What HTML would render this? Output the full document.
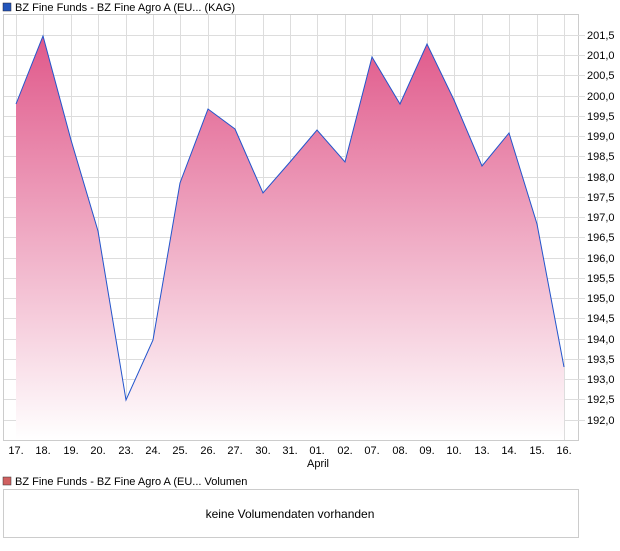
<!DOCTYPE html>
<html><head><meta charset="utf-8"><style>
body{margin:0;background:#fff;font-family:"Liberation Sans",sans-serif;}
</style></head><body>
<svg width="620" height="546" xmlns="http://www.w3.org/2000/svg" font-family="Liberation Sans, sans-serif" font-size="11" fill="#000">
<defs><linearGradient id="g" x1="0" y1="0" x2="0" y2="1"><stop offset="0" stop-color="#e0588a"/><stop offset="1" stop-color="#fff"/></linearGradient></defs>
<rect x="3" y="3" width="8" height="8" fill="#2255bb" stroke="#223" stroke-width="0.5"/>
<text x="15" y="11">BZ Fine Funds - BZ Fine Agro A (EU... (KAG)</text>
<rect x="3.5" y="14.5" width="575" height="426" fill="none" stroke="#ccc"/>
<g stroke="#ddd">
<line x1="16.5" y1="15" x2="16.5" y2="440"/><line x1="43.5" y1="15" x2="43.5" y2="440"/><line x1="71.5" y1="15" x2="71.5" y2="440"/><line x1="98.5" y1="15" x2="98.5" y2="440"/><line x1="126.5" y1="15" x2="126.5" y2="440"/><line x1="153.5" y1="15" x2="153.5" y2="440"/><line x1="180.5" y1="15" x2="180.5" y2="440"/><line x1="208.5" y1="15" x2="208.5" y2="440"/><line x1="235.5" y1="15" x2="235.5" y2="440"/><line x1="263.5" y1="15" x2="263.5" y2="440"/><line x1="290.5" y1="15" x2="290.5" y2="440"/><line x1="317.5" y1="15" x2="317.5" y2="440"/><line x1="345.5" y1="15" x2="345.5" y2="440"/><line x1="372.5" y1="15" x2="372.5" y2="440"/><line x1="400.5" y1="15" x2="400.5" y2="440"/><line x1="427.5" y1="15" x2="427.5" y2="440"/><line x1="454.5" y1="15" x2="454.5" y2="440"/><line x1="482.5" y1="15" x2="482.5" y2="440"/><line x1="509.5" y1="15" x2="509.5" y2="440"/><line x1="537.5" y1="15" x2="537.5" y2="440"/><line x1="564.5" y1="15" x2="564.5" y2="440"/>
<line x1="4" y1="35.5" x2="585" y2="35.5"/><line x1="4" y1="55.5" x2="585" y2="55.5"/><line x1="4" y1="75.5" x2="585" y2="75.5"/><line x1="4" y1="96.5" x2="585" y2="96.5"/><line x1="4" y1="116.5" x2="585" y2="116.5"/><line x1="4" y1="136.5" x2="585" y2="136.5"/><line x1="4" y1="156.5" x2="585" y2="156.5"/><line x1="4" y1="177.5" x2="585" y2="177.5"/><line x1="4" y1="197.5" x2="585" y2="197.5"/><line x1="4" y1="217.5" x2="585" y2="217.5"/><line x1="4" y1="237.5" x2="585" y2="237.5"/><line x1="4" y1="258.5" x2="585" y2="258.5"/><line x1="4" y1="278.5" x2="585" y2="278.5"/><line x1="4" y1="298.5" x2="585" y2="298.5"/><line x1="4" y1="318.5" x2="585" y2="318.5"/><line x1="4" y1="339.5" x2="585" y2="339.5"/><line x1="4" y1="359.5" x2="585" y2="359.5"/><line x1="4" y1="379.5" x2="585" y2="379.5"/><line x1="4" y1="399.5" x2="585" y2="399.5"/><line x1="4" y1="420.5" x2="585" y2="420.5"/>
</g>
<polygon fill="url(#g)" points="16,104 43,36 71,140 98,231 126,400 153,340 180,183 208,109 235,129 263,193 290,162 317,130 345,162 372,57 400,104 427,44 454,100 482,166 509,133 537,224 564,367 564,440 16,440"/>
<polyline fill="none" stroke="#2255cc" stroke-width="1" points="16,104 43,36 71,140 98,231 126,400 153,340 180,183 208,109 235,129 263,193 290,162 317,130 345,162 372,57 400,104 427,44 454,100 482,166 509,133 537,224 564,367"/>
<g text-anchor="start">
<text x="587" y="39">201,5</text><text x="587" y="59">201,0</text><text x="587" y="79">200,5</text><text x="587" y="100">200,0</text><text x="587" y="120">199,5</text><text x="587" y="140">199,0</text><text x="587" y="160">198,5</text><text x="587" y="181">198,0</text><text x="587" y="201">197,5</text><text x="587" y="221">197,0</text><text x="587" y="241">196,5</text><text x="587" y="262">196,0</text><text x="587" y="282">195,5</text><text x="587" y="302">195,0</text><text x="587" y="322">194,5</text><text x="587" y="343">194,0</text><text x="587" y="363">193,5</text><text x="587" y="383">193,0</text><text x="587" y="403">192,5</text><text x="587" y="424">192,0</text>
</g>
<g text-anchor="middle">
<text x="16" y="454">17.</text><text x="43" y="454">18.</text><text x="71" y="454">19.</text><text x="98" y="454">20.</text><text x="126" y="454">23.</text><text x="153" y="454">24.</text><text x="180" y="454">25.</text><text x="208" y="454">26.</text><text x="235" y="454">27.</text><text x="263" y="454">30.</text><text x="290" y="454">31.</text><text x="317" y="454">01.</text><text x="345" y="454">02.</text><text x="372" y="454">07.</text><text x="400" y="454">08.</text><text x="427" y="454">09.</text><text x="454" y="454">10.</text><text x="482" y="454">13.</text><text x="509" y="454">14.</text><text x="537" y="454">15.</text><text x="564" y="454">16.</text>
<text x="318" y="467">April</text>
</g>
<rect x="3" y="477" width="8" height="8" fill="#d06060" stroke="#333" stroke-width="0.5"/>
<text x="15" y="485">BZ Fine Funds - BZ Fine Agro A (EU... Volumen</text>
<rect x="3.5" y="489.5" width="575" height="48" fill="none" stroke="#ccc"/>
<text x="290" y="518" text-anchor="middle" font-size="12">keine Volumendaten vorhanden</text>
</svg>
</body></html>
